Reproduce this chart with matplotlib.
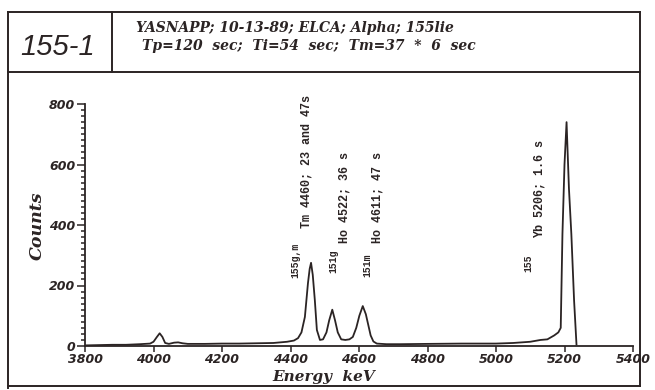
import matplotlib
matplotlib.use("Agg")
import matplotlib.pyplot as plt
from matplotlib.lines import Line2D
from matplotlib.ticker import MultipleLocator

# alpha spectrum, counts per energy bin
energy_kev = [3800, 3840, 3880, 3920, 3960, 3990, 4000, 4010, 4018, 4026, 4034,
              4045, 4060, 4072, 4085, 4100, 4150, 4200, 4250, 4300, 4350, 4390,
              4410, 4422, 4432, 4442, 4451, 4456, 4460, 4465, 4471, 4477, 4486,
              4495, 4505, 4513, 4522, 4530, 4538, 4548, 4560, 4572, 4582, 4592,
              4601, 4611, 4620, 4627, 4634, 4642, 4652, 4680, 4720, 4800, 4900,
              5000, 5050, 5100, 5130, 5150, 5170, 5182, 5189, 5194, 5200, 5206,
              5213, 5220, 5228, 5235]
counts = [2, 3, 4, 4, 6, 8, 14, 30, 42, 30, 10,
          7, 11, 12, 9, 7, 7, 8, 8, 9, 10, 14,
          18, 26, 45, 96, 208, 255, 275, 235, 152, 53, 20,
          22, 45, 85, 120, 85, 45, 22, 20, 22, 30, 60,
          100, 132, 105, 70, 35, 15, 8, 6, 6, 7, 8,
          8, 10, 14, 20, 22, 35, 45, 60, 370, 600, 740,
          520, 370, 150, 5]

# peak annotations: isotope, element, line energy, half-life
peak_iso = ["155g,m", "151g", "151m", "155"]
peak_elem = ["Tm", "Ho", "Ho", "Yb"]
peak_line = [4460, 4522, 4611, 5206]
peak_half = ["23 and 47s", "36 s", "47 s", "1.6 s"]

header_id = "155-1"
header_line1 = "YASNAPP; 10-13-89; ELCA; Alpha; 155lie"
header_line2 = "Tp=120  sec;  Ti=54  sec;  Tm=37  *  6  sec"

ink = "#2b2424"
W, H = 655, 390

fig = plt.figure(figsize=(6.55, 3.9), dpi=100)
fig.patch.set_facecolor("white")


def fx(px):
    return px / W


def fy(py):
    return 1 - py / H


def frame_line(x0, y0, x1, y1, lw=1.4):
    fig.add_artist(Line2D([fx(x0), fx(x1)], [fy(y0), fy(y1)],
                          transform=fig.transFigure, color=ink, lw=lw))


# outer box, header box and divider
frame_line(8, 12, 640, 12)
frame_line(8, 12, 8, 388)
frame_line(640, 12, 640, 386)
frame_line(8, 386, 640, 386)
frame_line(8, 72, 640, 72)
frame_line(112, 12, 112, 72)

fig.text(fx(58), fy(47), header_id, ha="center", va="center",
         fontsize=21, style="italic", family="Liberation Sans", color=ink)
fig.text(fx(136), fy(28), header_line1, ha="left", va="center",
         fontsize=10, weight="bold", style="italic", family="DejaVu Serif", color=ink)
fig.text(fx(142), fy(46), header_line2, ha="left", va="center",
         fontsize=10, weight="bold", style="italic", family="DejaVu Serif", color=ink)

ax = fig.add_axes([fx(85), fy(346), fx(633) - fx(85), fy(104) - fy(346)])
ax.plot(energy_kev, counts, color=ink, lw=1.3)
ax.set_xlim(3800, 5400)
ax.set_ylim(0, 800)

for side in ["top", "right"]:
    ax.spines[side].set_visible(False)
for side in ["left", "bottom"]:
    ax.spines[side].set_color(ink)
    ax.spines[side].set_linewidth(1.3)

ax.xaxis.set_major_locator(MultipleLocator(200))
ax.yaxis.set_major_locator(MultipleLocator(200))
ax.yaxis.set_minor_locator(MultipleLocator(20))
ax.tick_params(axis="both", which="both", direction="out", color=ink, width=1.1)
ax.tick_params(axis="x", which="major", length=4, pad=1)
ax.tick_params(axis="y", which="major", length=6, pad=1)
ax.tick_params(axis="y", which="minor", length=3)
for lab in ax.get_xticklabels() + ax.get_yticklabels():
    lab.set_fontfamily("DejaVu Sans")
    lab.set_fontweight("bold")
    lab.set_fontstyle("oblique")
    lab.set_fontsize(9)
    lab.set_color(ink)

fig.text(fx(37), fy(226), "Counts", rotation=90, ha="center", va="center",
         fontsize=12.5, weight="bold", style="italic", family="DejaVu Serif", color=ink)
fig.text(fx(324), fy(377), "Energy  keV", ha="center", va="center",
         fontsize=11, weight="bold", style="italic", family="DejaVu Serif", color=ink)

# rotated peak labels: small isotope prefix, then element / energy / half-life
iso_pos = [(4413, 225), (4524, 241), (4623, 228), (5093, 245)]
main_pos = [(4448, 390), (4559, 340), (4653, 340), (5128, 357)]
for iso, elem, e, hl, (ix, iy), (mx, my) in zip(peak_iso, peak_elem, peak_line,
                                                 peak_half, iso_pos, main_pos):
    ax.text(ix, iy, iso, rotation=90, ha="center", va="bottom", fontsize=7,
            weight="bold", family="Liberation Mono", color=ink, clip_on=False)
    ax.text(mx, my, f"{elem} {e}; {hl}", rotation=90, ha="center", va="bottom",
            fontsize=8.5, weight="bold", family="Liberation Mono", color=ink,
            clip_on=False)

fig.savefig("out.png", dpi=100)
